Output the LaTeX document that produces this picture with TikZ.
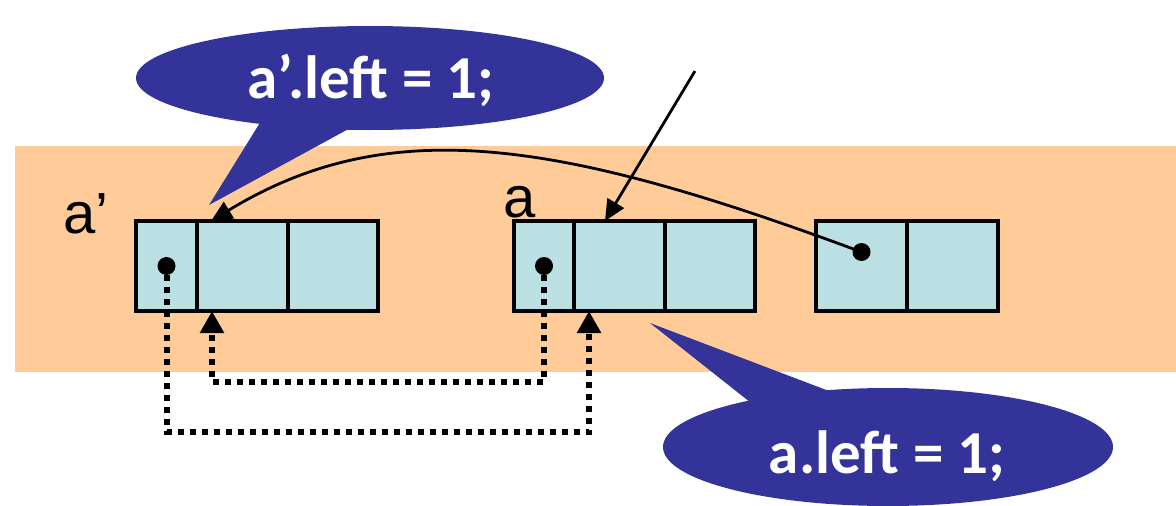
\documentclass[tikz,border=0pt]{standalone}
\usepackage{fontspec}
\setmainfont{Liberation Sans}
\newfontfamily\calloutfont{Carlito}
\usetikzlibrary{arrows.meta,calc,shapes.geometric}

\definecolor{bandorange}{RGB}{255,204,153}
\definecolor{cellblue}{RGB}{186,224,227}
\definecolor{callblue}{RGB}{51,51,153}

\begin{document}
\begin{tikzpicture}[x=1pt,y=-1pt,
  cell/.style={draw=black,line width=3.4pt,fill=cellblue,minimum height=90pt,
    inner sep=0pt,outer sep=0pt,anchor=north west},
  ptr/.style={line width=2.8pt,-{Triangle[length=21pt,width=19pt]}},
  backptr/.style={line width=6pt,dash pattern=on 6pt off 6pt,
    -{Triangle[length=22pt,width=23pt]}},
  dotmark/.style={circle,fill=black,inner sep=0pt,minimum size=18pt},
  lbl/.style={font=\fontsize{58}{60}\selectfont,inner sep=0pt},
  bubble/.style={ellipse,fill=callblue,inner sep=0pt},
  bubbletext/.style={font=\calloutfont\bfseries\fontsize{61}{64}\selectfont,
    text=white,inner sep=0pt}]

  % canvas and the orange band
  \fill[white] (0,0) rectangle (1176,506);
  \useasboundingbox (0,0) rectangle (1176,506);
  \fill[bandorange] (15,146) rectangle (1176,372);

  % speech bubbles
  \node[bubble,minimum width=468pt,minimum height=104pt] (bubA) at (370,78) {};
  \fill[callblue] (266,113) -- (209,205) -- (365,120) -- cycle;
  \node[bubble,minimum width=450pt,minimum height=118pt] (bubB) at (888,447) {};
  \fill[callblue] (760,410) -- (650,323) -- (850,399) -- cycle;
  \node[bubbletext,anchor=base] (txtA) at (371,98) {a’.left = 1;};
  \node[bubbletext,anchor=base] (txtB) at (887,473) {a.left = 1;};

  % node a'
  \node[cell,minimum width=61pt] (p1) at (136,221) {};
  \node[cell,minimum width=91pt] (p2) at (p1.north east) {};
  \node[cell,minimum width=90pt] (p3) at (p2.north east) {};
  % node a
  \node[cell,minimum width=60pt] (a1) at (514,221) {};
  \node[cell,minimum width=91pt] (a2) at (a1.north east) {};
  \node[cell,minimum width=90pt] (a3) at (a2.north east) {};
  % right-hand node
  \node[cell,minimum width=91pt] (q1) at (816,221) {};
  \node[cell,minimum width=91pt] (q2) at (q1.north east) {};

  % labels
  \node[lbl,anchor=base west] (lap) at (63,233) {a’};
  \node[lbl,anchor=base west] (la) at (503,217) {a};

  % pointer dots
  \node[dotmark] (d1) at (p1.center) {};
  \node[dotmark] (d2) at (a1.center) {};
  \node[dotmark] (d3) at ($(q1.center)+(0,-14)$) {};

  % arrow targets
  \coordinate (pTop) at ($(p2.north west)+(14,0)$);
  \coordinate (pBot) at ($(p2.south west)+(15,0)$);
  \coordinate (aTop) at ($(a2.north west)+(31,0)$);
  \coordinate (aBot) at ($(a2.south west)+(15,0)$);
  \coordinate (src) at (695,71);

  % solid pointers
  \draw[ptr] (src) -- (aTop);
  \draw[ptr] (d3.center) .. controls (560,140) and (390,112) .. (pTop);

  % dotted back pointers
  \draw[backptr] (d1.south) -- ++(0,157) -| (aBot);
  \draw[backptr] (d2.south) -- ++(0,107) -| (pBot);
\end{tikzpicture}
\end{document}
